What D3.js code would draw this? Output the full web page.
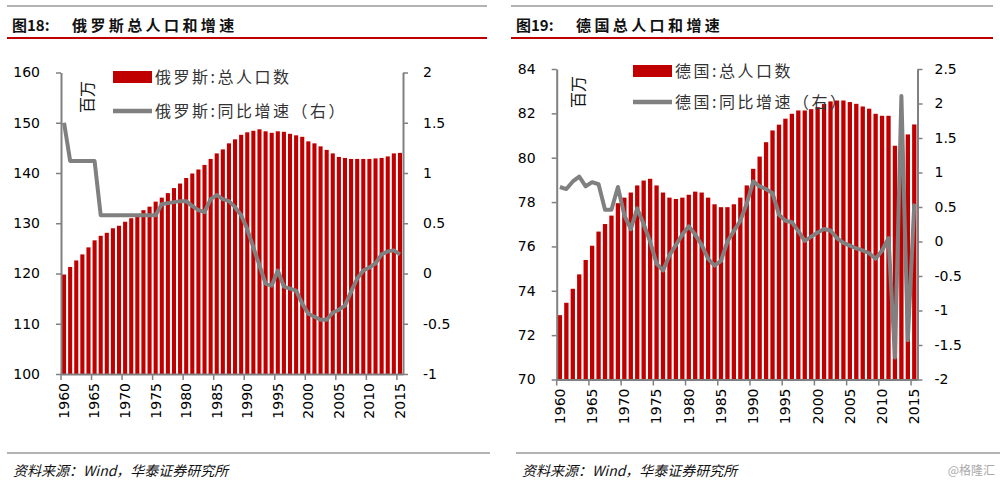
<!DOCTYPE html>
<html><head><meta charset="utf-8">
<script src="https://cdn.jsdelivr.net/npm/d3@7"></script>
<style>body{margin:0;background:#fff}svg{display:block}</style>
</head><body><svg id="c" width="1000" height="487"></svg>
<script>
const years = [1960,1961,1962,1963,1964,1965,1966,1967,1968,1969,1970,1971,1972,1973,1974,1975,1976,1977,1978,1979,1980,1981,1982,1983,1984,1985,1986,1987,1988,1989,1990,1991,1992,1993,1994,1995,1996,1997,1998,1999,2000,2001,2002,2003,2004,2005,2006,2007,2008,2009,2010,2011,2012,2013,2014,2015];
const xTickYears = [1960,1965,1970,1975,1980,1985,1990,1995,2000,2005,2010,2015];

// Russia: total population (millions) and YoY growth (%)
const ruPop = [119.8,121.3,122.6,123.8,125.2,126.6,127.5,128.1,129.0,129.5,130.3,131.0,131.6,132.6,133.3,134.3,135.1,136.0,137.0,137.9,139.0,139.9,140.7,141.6,142.8,143.9,144.7,145.9,146.7,147.6,148.1,148.4,148.7,148.3,148.0,148.3,148.2,147.8,147.5,147.2,146.3,145.9,145.3,144.6,143.9,143.2,143.0,142.8,142.8,142.8,142.8,142.9,143.0,143.3,143.9,144.0];
const ruGrowth = [1.5,1.12,1.12,1.12,1.12,1.12,0.58,0.58,0.58,0.58,0.58,0.58,0.58,0.58,0.58,0.58,0.69,0.70,0.71,0.72,0.72,0.67,0.63,0.61,0.74,0.78,0.74,0.72,0.66,0.58,0.44,0.26,0.08,-0.10,-0.12,0.03,-0.13,-0.15,-0.17,-0.30,-0.40,-0.43,-0.46,-0.46,-0.39,-0.36,-0.32,-0.18,-0.05,0.03,0.06,0.10,0.19,0.22,0.23,0.19];
const ruLeftTicks = [100,110,120,130,140,150,160];
const ruRightTicks = [-1,-0.5,0,0.5,1,1.5,2];

// Germany
const dePop = [72.9,73.46,74.09,74.74,75.39,76.03,76.67,77.01,77.39,77.95,78.2,78.43,78.75,78.97,79.05,78.75,78.43,78.2,78.14,78.2,78.33,78.47,78.43,78.2,77.9,77.77,77.77,77.9,78.2,78.75,79.5,80.05,80.7,81.23,81.49,81.76,81.98,82.13,82.13,82.19,82.28,82.42,82.54,82.58,82.58,82.51,82.43,82.31,82.21,81.98,81.89,81.89,80.54,80.6,81.05,81.5];
const deGrowth = [0.79,0.76,0.87,0.94,0.80,0.86,0.83,0.46,0.46,0.79,0.38,0.18,0.48,0.25,0.0,-0.32,-0.42,-0.2,-0.05,0.1,0.22,0.1,-0.05,-0.25,-0.35,-0.28,0.0,0.15,0.3,0.55,0.87,0.8,0.76,0.7,0.39,0.3,0.28,0.15,0.01,0.07,0.13,0.18,0.16,0.05,-0.02,-0.06,-0.1,-0.13,-0.17,-0.25,-0.13,0.05,-1.68,2.11,-1.43,0.55];
const deLeftTicks = [70,72,74,76,78,80,82,84];
const deRightTicks = [-2,-1.5,-1,-0.5,0,0.5,1,1.5,2,2.5];

const titleNums = ["图18:", "图19:"];
const titleTexts = ["俄罗斯总人口和增速", "德国总人口和增速"];
const barLabels = ["俄罗斯:总人口数", "德国:总人口数"];
const lineLabels = ["俄罗斯:同比增速（右）", "德国:同比增速（右）"];
const unitLabel = "百万";
const sourceText = "资料来源：Wind，华泰证券研究所";
const watermark = "@格隆汇";

const RED = "#c00000", GRAY = "#808080";
const NUMF = "'DejaVu Sans', Verdana, sans-serif";
const CJK = "'Noto Sans CJK SC', sans-serif";
const svg = d3.select("#c");
svg.append("rect").attr("width",1000).attr("height",487).attr("fill","#fff");

function panel(cfg) {
  const g = svg.append("g");
  // header
  g.append("line").attr("x1",cfg.hx0).attr("x2",cfg.hx1).attr("y1",6).attr("y2",6)
    .attr("stroke","#9a9a9a").attr("stroke-width",1.5);
  g.append("text").attr("x",cfg.hx0+5).attr("y",31).text(cfg.num)
    .attr("font-family",CJK).attr("font-weight","bold").attr("font-size",15).attr("fill","#111");
  g.append("text").attr("x",cfg.hx0+65).attr("y",31).text(cfg.title)
    .attr("font-family",CJK).attr("font-weight","bold").attr("font-size",15)
    .attr("letter-spacing",3.4).attr("fill","#111");
  g.append("line").attr("x1",cfg.hx0).attr("x2",cfg.hx1).attr("y1",38).attr("y2",38)
    .attr("stroke",RED).attr("stroke-width",2.2);
  // footer
  g.append("line").attr("x1",cfg.fx0).attr("x2",cfg.fx1).attr("y1",453).attr("y2",453)
    .attr("stroke","#9a9a9a").attr("stroke-width",1.5);
  g.append("text").attr("x",cfg.fx0+6).attr("y",476).text(sourceText)
    .attr("font-family",CJK).attr("font-style","italic").attr("font-size",14)
    .attr("fill","#111");

  const x = d3.scaleBand().domain(years).range([cfg.x0,cfg.x1]).paddingInner(0.33).paddingOuter(0.165);
  const step = x.step(), bw = x.bandwidth();
  const yL = d3.scaleLinear().domain(cfg.lDom).range([cfg.y0,cfg.y1]);
  const yR = d3.scaleLinear().domain(cfg.rDom).range([cfg.y0,cfg.y1]);

  g.append("g").selectAll("rect").data(cfg.pop).join("rect")
    .attr("x",(d,i)=>x(years[i])).attr("width",bw)
    .attr("y",d=>yL(d)).attr("height",d=>cfg.y0-yL(d)).attr("fill",RED);

  const pts = cfg.growth.map((v,i)=>[x(years[i])+bw/2, yR(v)]);
  g.append("path").attr("d",d3.line()(pts)).attr("fill","none")
    .attr("stroke",GRAY).attr("stroke-width",4).attr("stroke-linejoin","round");

  function styleAxis(sel){
    sel.select(".domain").attr("stroke",GRAY).attr("stroke-width",2);
    sel.selectAll(".tick line").attr("stroke",GRAY).attr("stroke-width",1.5);
    sel.selectAll("text").attr("font-family",NUMF).attr("font-size",14).attr("fill","#000");
  }
  const la = g.append("g").attr("transform",`translate(${cfg.x0},0)`)
    .call(d3.axisLeft(yL).tickValues(cfg.lTicks).tickSize(5).tickSizeOuter(0).tickPadding(cfg.lPad).tickFormat(d3.format("d")));
  styleAxis(la);
  const ra = g.append("g").attr("transform",`translate(${cfg.x1},0)`)
    .call(d3.axisRight(yR).tickValues(cfg.rTicks).tickSize(5).tickSizeOuter(0).tickPadding(cfg.rPad).tickFormat(d=>String(d)));
  styleAxis(ra);
  const ba = g.append("g").attr("transform",`translate(0,${cfg.y0})`)
    .call(d3.axisBottom(x).tickValues(xTickYears).tickSize(0).tickSizeOuter(0).tickFormat(d=>String(d)));
  styleAxis(ba);
  ba.selectAll(".tick text").attr("transform","rotate(-90)").attr("text-anchor","end")
    .attr("x",-9).attr("y",0).attr("dy","0.35em");
  ba.selectAll(".tick line").remove();
  ba.append("g").selectAll("line").data(xTickYears).join("line")
    .attr("x1",d=>x(d)-step*0.165).attr("x2",d=>x(d)-step*0.165)
    .attr("y1",0).attr("y2",6).attr("stroke",GRAY).attr("stroke-width",1.5);

  // unit
  g.append("text").attr("transform",`translate(${cfg.ux},${cfg.uy}) rotate(-90)`)
    .attr("text-anchor","middle").attr("dy","0.35em").text(unitLabel)
    .attr("font-family",CJK).attr("font-size",16).attr("fill","#111");
  // legend
  g.append("rect").attr("x",cfg.lgx).attr("y",cfg.lgy1-6).attr("width",39).attr("height",12).attr("fill",RED);
  g.append("text").attr("x",cfg.lgx+42).attr("y",cfg.lgy1).attr("dy","0.35em").text(cfg.barLabel)
    .attr("font-family",CJK).attr("font-size",16).attr("letter-spacing",2.5).attr("fill","#333");
  g.append("line").attr("x1",cfg.lgx).attr("x2",cfg.lgx+39).attr("y1",cfg.lgy2).attr("y2",cfg.lgy2)
    .attr("stroke",GRAY).attr("stroke-width",4.5);
  g.append("text").attr("x",cfg.lgx+42).attr("y",cfg.lgy2).attr("dy","0.35em").text(cfg.lineLabel)
    .attr("font-family",CJK).attr("font-size",16).attr("letter-spacing",2.5).attr("fill","#333");
}

panel({hx0:7,hx1:487,fx0:7,fx1:490,num:titleNums[0],title:titleTexts[0],
  x0:61,x1:403,y0:374,y1:72.5,lDom:[100,160],rDom:[-1,2],
  pop:ruPop,growth:ruGrowth,lTicks:ruLeftTicks,rTicks:ruRightTicks,lPad:16,rPad:15,
  ux:87,uy:97,lgx:113,lgy1:77,lgy2:111,barLabel:barLabels[0],lineLabel:lineLabels[0]});
panel({hx0:511,hx1:993,fx0:516,fx1:1000,num:titleNums[1],title:titleTexts[1],
  x0:556.7,x1:917.5,y0:379.5,y1:69,lDom:[70,84],rDom:[-2,2.5],
  pop:dePop,growth:deGrowth,lTicks:deLeftTicks,rTicks:deRightTicks,lPad:16,rPad:12,
  ux:578,uy:92,lgx:633,lgy1:71,lgy2:102,barLabel:barLabels[1],lineLabel:lineLabels[1]});

svg.append("text").attr("x",995).attr("y",475).attr("text-anchor","end").text(watermark)
  .attr("font-family",CJK).attr("font-size",12).attr("fill","#aaa");
</script></body></html>
